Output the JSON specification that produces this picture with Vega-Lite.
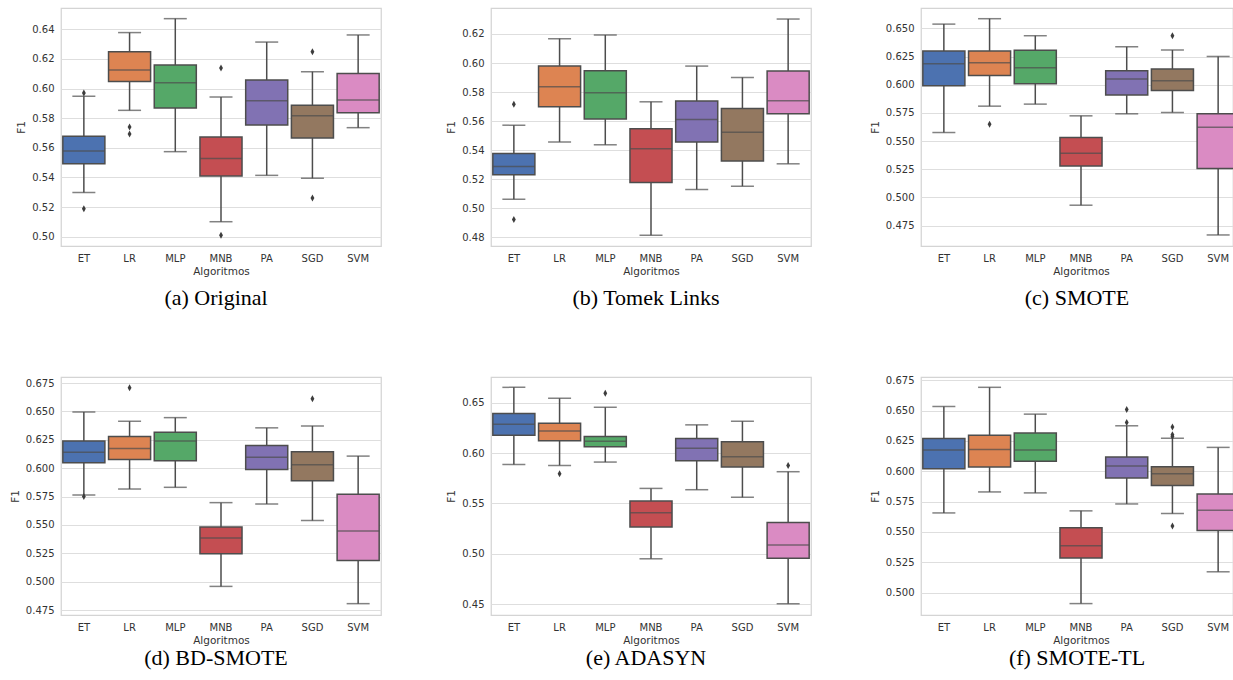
{
  "$schema": "https://vega.github.io/schema/vega-lite/v6.json",
  "background": "white",
  "padding": {"left": 9, "top": 7, "right": 0, "bottom": 0},
  "config": {
    "view": {"stroke": "#d4d4d4", "strokeWidth": 1.25},
    "axis": {"labelFont": "DejaVu Sans", "labelFontSize": 10, "labelColor": "#333333", "titleFont": "DejaVu Sans", "titleFontSize": 10.5, "titleFontWeight": "normal", "titleColor": "#333333", "ticks": false, "domain": false},
    "axisY": {"grid": true, "gridColor": "#dedede", "gridWidth": 1, "labelPadding": 7, "titlePadding": 5},
    "axisX": {"grid": false, "labelPadding": 7, "titlePadding": 3, "labelAngle": 0},
    "title": {"font": "'Liberation Serif', 'Times New Roman', serif", "fontSize": 22, "fontWeight": "normal", "color": "#000000", "anchor": "middle"}
  },
  "datasets": {
    "all": [
      {"p": "a", "alg": "ET", "lo": 0.5299, "q1": 0.5493, "med": 0.5579, "q3": 0.5678, "hi": 0.5948},
      {"p": "a", "alg": "LR", "lo": 0.5853, "q1": 0.6047, "med": 0.6125, "q3": 0.6249, "hi": 0.6378},
      {"p": "a", "alg": "MLP", "lo": 0.5574, "q1": 0.5869, "med": 0.6040, "q3": 0.6159, "hi": 0.6472},
      {"p": "a", "alg": "MNB", "lo": 0.5101, "q1": 0.5410, "med": 0.5527, "q3": 0.5673, "hi": 0.5943},
      {"p": "a", "alg": "PA", "lo": 0.5414, "q1": 0.5754, "med": 0.5918, "q3": 0.6058, "hi": 0.6314},
      {"p": "a", "alg": "SGD", "lo": 0.5394, "q1": 0.5666, "med": 0.5817, "q3": 0.5887, "hi": 0.6114},
      {"p": "a", "alg": "SVM", "lo": 0.5736, "q1": 0.5837, "med": 0.5923, "q3": 0.6101, "hi": 0.6362},
      {"p": "a", "alg": "ET", "v": 0.5970},
      {"p": "a", "alg": "ET", "v": 0.5189},
      {"p": "a", "alg": "LR", "v": 0.5741},
      {"p": "a", "alg": "LR", "v": 0.5693},
      {"p": "a", "alg": "MNB", "v": 0.6139},
      {"p": "a", "alg": "MNB", "v": 0.5009},
      {"p": "a", "alg": "SGD", "v": 0.6249},
      {"p": "a", "alg": "SGD", "v": 0.5261},

      {"p": "b", "alg": "ET", "lo": 0.5062, "q1": 0.5230, "med": 0.5287, "q3": 0.5377, "hi": 0.5572},
      {"p": "b", "alg": "LR", "lo": 0.5457, "q1": 0.5699, "med": 0.5837, "q3": 0.5979, "hi": 0.6168},
      {"p": "b", "alg": "MLP", "lo": 0.5437, "q1": 0.5614, "med": 0.5795, "q3": 0.5947, "hi": 0.6193},
      {"p": "b", "alg": "MNB", "lo": 0.4814, "q1": 0.5177, "med": 0.5409, "q3": 0.5547, "hi": 0.5733},
      {"p": "b", "alg": "PA", "lo": 0.5129, "q1": 0.5457, "med": 0.5611, "q3": 0.5738, "hi": 0.5979},
      {"p": "b", "alg": "SGD", "lo": 0.5152, "q1": 0.5326, "med": 0.5524, "q3": 0.5687, "hi": 0.5901},
      {"p": "b", "alg": "SVM", "lo": 0.5306, "q1": 0.5651, "med": 0.5740, "q3": 0.5945, "hi": 0.6303},
      {"p": "b", "alg": "ET", "v": 0.5717},
      {"p": "b", "alg": "ET", "v": 0.4922},

      {"p": "c", "alg": "ET", "lo": 0.5576, "q1": 0.5991, "med": 0.6186, "q3": 0.6299, "hi": 0.6538},
      {"p": "c", "alg": "LR", "lo": 0.5810, "q1": 0.6083, "med": 0.6195, "q3": 0.6299, "hi": 0.6586},
      {"p": "c", "alg": "MLP", "lo": 0.5828, "q1": 0.6008, "med": 0.6151, "q3": 0.6305, "hi": 0.6435},
      {"p": "c", "alg": "MNB", "lo": 0.4931, "q1": 0.5280, "med": 0.5393, "q3": 0.5532, "hi": 0.5724},
      {"p": "c", "alg": "PA", "lo": 0.5742, "q1": 0.5908, "med": 0.6050, "q3": 0.6124, "hi": 0.6337},
      {"p": "c", "alg": "SGD", "lo": 0.5754, "q1": 0.5950, "med": 0.6035, "q3": 0.6139, "hi": 0.6308},
      {"p": "c", "alg": "SVM", "lo": 0.4667, "q1": 0.5256, "med": 0.5623, "q3": 0.5742, "hi": 0.6251},
      {"p": "c", "alg": "LR", "v": 0.5650},
      {"p": "c", "alg": "SGD", "v": 0.6435},

      {"p": "d", "alg": "ET", "lo": 0.5763, "q1": 0.6047, "med": 0.6141, "q3": 0.6240, "hi": 0.6495},
      {"p": "d", "alg": "LR", "lo": 0.5816, "q1": 0.6077, "med": 0.6173, "q3": 0.6279, "hi": 0.6413},
      {"p": "d", "alg": "MLP", "lo": 0.5831, "q1": 0.6065, "med": 0.6238, "q3": 0.6317, "hi": 0.6445},
      {"p": "d", "alg": "MNB", "lo": 0.4958, "q1": 0.5245, "med": 0.5385, "q3": 0.5482, "hi": 0.5696},
      {"p": "d", "alg": "PA", "lo": 0.5684, "q1": 0.5989, "med": 0.6097, "q3": 0.6199, "hi": 0.6355},
      {"p": "d", "alg": "SGD", "lo": 0.5538, "q1": 0.5889, "med": 0.6030, "q3": 0.6144, "hi": 0.6372},
      {"p": "d", "alg": "SVM", "lo": 0.4806, "q1": 0.5187, "med": 0.5447, "q3": 0.5769, "hi": 0.6106},
      {"p": "d", "alg": "ET", "v": 0.5751},
      {"p": "d", "alg": "LR", "v": 0.6709},
      {"p": "d", "alg": "SGD", "v": 0.6612},

      {"p": "e", "alg": "ET", "lo": 0.5888, "q1": 0.6179, "med": 0.6288, "q3": 0.6394, "hi": 0.6655},
      {"p": "e", "alg": "LR", "lo": 0.5879, "q1": 0.6123, "med": 0.6222, "q3": 0.6298, "hi": 0.6546},
      {"p": "e", "alg": "MLP", "lo": 0.5912, "q1": 0.6064, "med": 0.6120, "q3": 0.6166, "hi": 0.6457},
      {"p": "e", "alg": "MNB", "lo": 0.4950, "q1": 0.5267, "med": 0.5409, "q3": 0.5525, "hi": 0.5650},
      {"p": "e", "alg": "PA", "lo": 0.5637, "q1": 0.5925, "med": 0.6050, "q3": 0.6146, "hi": 0.6282},
      {"p": "e", "alg": "SGD", "lo": 0.5561, "q1": 0.5862, "med": 0.5964, "q3": 0.6114, "hi": 0.6318},
      {"p": "e", "alg": "SVM", "lo": 0.4503, "q1": 0.4956, "med": 0.5088, "q3": 0.5310, "hi": 0.5816},
      {"p": "e", "alg": "LR", "v": 0.5796},
      {"p": "e", "alg": "MLP", "v": 0.6596},
      {"p": "e", "alg": "SVM", "v": 0.5879},

      {"p": "f", "alg": "ET", "lo": 0.5657, "q1": 0.6021, "med": 0.6175, "q3": 0.6271, "hi": 0.6534},
      {"p": "f", "alg": "LR", "lo": 0.5830, "q1": 0.6035, "med": 0.6180, "q3": 0.6298, "hi": 0.6692},
      {"p": "f", "alg": "MLP", "lo": 0.5822, "q1": 0.6082, "med": 0.6175, "q3": 0.6315, "hi": 0.6471},
      {"p": "f", "alg": "MNB", "lo": 0.4910, "q1": 0.5285, "med": 0.5386, "q3": 0.5534, "hi": 0.5674},
      {"p": "f", "alg": "PA", "lo": 0.5731, "q1": 0.5945, "med": 0.6043, "q3": 0.6117, "hi": 0.6375},
      {"p": "f", "alg": "SGD", "lo": 0.5652, "q1": 0.5882, "med": 0.5980, "q3": 0.6038, "hi": 0.6273},
      {"p": "f", "alg": "SVM", "lo": 0.5172, "q1": 0.5512, "med": 0.5679, "q3": 0.5813, "hi": 0.6197},
      {"p": "f", "alg": "PA", "v": 0.6509},
      {"p": "f", "alg": "PA", "v": 0.6402},
      {"p": "f", "alg": "SGD", "v": 0.6366},
      {"p": "f", "alg": "SGD", "v": 0.6301},
      {"p": "f", "alg": "SGD", "v": 0.6287},
      {"p": "f", "alg": "SGD", "v": 0.5550}
    ]
  },
  "columns": 3,
  "spacing": {"row": 131, "column": 110},
  "bounds": "flush",
  "concat": [
    {
      "width": 320, "height": 238,
      "title": {"text": "(a) Original", "orient": "bottom", "offset": 11, "dx": -5, "frame": "group"},
      "data": {"name": "all"},
      "transform": [{"filter": "datum.p == 'a'"}],
      "encoding": {"x": {"field": "alg", "type": "nominal", "title": "Algoritmos", "scale": {"domain": ["ET", "LR", "MLP", "MNB", "PA", "SGD", "SVM"], "paddingInner": 0, "paddingOuter": 0}}},
      "layer": [
        {"transform": [{"filter": "datum.lo != null"}], "mark": {"type": "rule", "stroke": "#4d4d4d", "strokeWidth": 1.5}, "encoding": {"y": {"field": "lo", "type": "quantitative", "title": "F1", "scale": {"domain": [0.4937, 0.6544], "nice": false, "zero": false}, "axis": {"values": [0.50, 0.52, 0.54, 0.56, 0.58, 0.60, 0.62, 0.64], "format": ".2f"}}, "y2": {"field": "hi"}}},
        {"transform": [{"filter": "datum.lo != null"}], "mark": {"type": "bar", "width": {"band": 0.92}, "stroke": "#4d4d4d", "strokeWidth": 1.5}, "encoding": {"y": {"field": "q1", "type": "quantitative", "title": "F1", "scale": {"domain": [0.4937, 0.6544], "nice": false, "zero": false}, "axis": {"values": [0.50, 0.52, 0.54, 0.56, 0.58, 0.60, 0.62, 0.64], "format": ".2f"}}, "y2": {"field": "q3"}, "color": {"field": "alg", "type": "nominal", "scale": {"domain": ["ET", "LR", "MLP", "MNB", "PA", "SGD", "SVM"], "range": ["#4C72B0", "#DD8452", "#55A868", "#C44E52", "#8172B3", "#937860", "#DA8BC3"]}, "legend": null}}},
        {"transform": [{"filter": "datum.lo != null"}], "mark": {"type": "tick", "color": "#4d4d4d", "thickness": 1.5, "size": 42}, "encoding": {"y": {"field": "med", "type": "quantitative", "title": "F1", "scale": {"domain": [0.4937, 0.6544], "nice": false, "zero": false}, "axis": {"values": [0.50, 0.52, 0.54, 0.56, 0.58, 0.60, 0.62, 0.64], "format": ".2f"}}}},
        {"transform": [{"filter": "datum.lo != null"}], "mark": {"type": "tick", "color": "#4d4d4d", "thickness": 1.5, "size": 23}, "encoding": {"y": {"field": "lo", "type": "quantitative", "title": "F1", "scale": {"domain": [0.4937, 0.6544], "nice": false, "zero": false}, "axis": {"values": [0.50, 0.52, 0.54, 0.56, 0.58, 0.60, 0.62, 0.64], "format": ".2f"}}}},
        {"transform": [{"filter": "datum.lo != null"}], "mark": {"type": "tick", "color": "#4d4d4d", "thickness": 1.5, "size": 23}, "encoding": {"y": {"field": "hi", "type": "quantitative", "title": "F1", "scale": {"domain": [0.4937, 0.6544], "nice": false, "zero": false}, "axis": {"values": [0.50, 0.52, 0.54, 0.56, 0.58, 0.60, 0.62, 0.64], "format": ".2f"}}}},
        {"transform": [{"filter": "datum.v != null"}], "mark": {"type": "point", "shape": "M0,-1L0.55,0L0,1L-0.55,0Z", "filled": true, "color": "#3d3d3d", "size": 49, "opacity": 1}, "encoding": {"y": {"field": "v", "type": "quantitative", "title": "F1", "scale": {"domain": [0.4937, 0.6544], "nice": false, "zero": false}, "axis": {"values": [0.50, 0.52, 0.54, 0.56, 0.58, 0.60, 0.62, 0.64], "format": ".2f"}}}}
      ]
    },
    {
      "width": 320, "height": 238,
      "title": {"text": "(b) Tomek Links", "orient": "bottom", "offset": 11, "dx": -5, "frame": "group"},
      "data": {"name": "all"},
      "transform": [{"filter": "datum.p == 'b'"}],
      "encoding": {"x": {"field": "alg", "type": "nominal", "title": "Algoritmos", "scale": {"domain": ["ET", "LR", "MLP", "MNB", "PA", "SGD", "SVM"], "paddingInner": 0, "paddingOuter": 0}}},
      "layer": [
        {"transform": [{"filter": "datum.lo != null"}], "mark": {"type": "rule", "stroke": "#4d4d4d", "strokeWidth": 1.5}, "encoding": {"y": {"field": "lo", "type": "quantitative", "title": "F1", "scale": {"domain": [0.474, 0.6379], "nice": false, "zero": false}, "axis": {"values": [0.48, 0.50, 0.52, 0.54, 0.56, 0.58, 0.60, 0.62], "format": ".2f"}}, "y2": {"field": "hi"}}},
        {"transform": [{"filter": "datum.lo != null"}], "mark": {"type": "bar", "width": {"band": 0.92}, "stroke": "#4d4d4d", "strokeWidth": 1.5}, "encoding": {"y": {"field": "q1", "type": "quantitative", "title": "F1", "scale": {"domain": [0.474, 0.6379], "nice": false, "zero": false}, "axis": {"values": [0.48, 0.50, 0.52, 0.54, 0.56, 0.58, 0.60, 0.62], "format": ".2f"}}, "y2": {"field": "q3"}, "color": {"field": "alg", "type": "nominal", "scale": {"domain": ["ET", "LR", "MLP", "MNB", "PA", "SGD", "SVM"], "range": ["#4C72B0", "#DD8452", "#55A868", "#C44E52", "#8172B3", "#937860", "#DA8BC3"]}, "legend": null}}},
        {"transform": [{"filter": "datum.lo != null"}], "mark": {"type": "tick", "color": "#4d4d4d", "thickness": 1.5, "size": 42}, "encoding": {"y": {"field": "med", "type": "quantitative", "title": "F1", "scale": {"domain": [0.474, 0.6379], "nice": false, "zero": false}, "axis": {"values": [0.48, 0.50, 0.52, 0.54, 0.56, 0.58, 0.60, 0.62], "format": ".2f"}}}},
        {"transform": [{"filter": "datum.lo != null"}], "mark": {"type": "tick", "color": "#4d4d4d", "thickness": 1.5, "size": 23}, "encoding": {"y": {"field": "lo", "type": "quantitative", "title": "F1", "scale": {"domain": [0.474, 0.6379], "nice": false, "zero": false}, "axis": {"values": [0.48, 0.50, 0.52, 0.54, 0.56, 0.58, 0.60, 0.62], "format": ".2f"}}}},
        {"transform": [{"filter": "datum.lo != null"}], "mark": {"type": "tick", "color": "#4d4d4d", "thickness": 1.5, "size": 23}, "encoding": {"y": {"field": "hi", "type": "quantitative", "title": "F1", "scale": {"domain": [0.474, 0.6379], "nice": false, "zero": false}, "axis": {"values": [0.48, 0.50, 0.52, 0.54, 0.56, 0.58, 0.60, 0.62], "format": ".2f"}}}},
        {"transform": [{"filter": "datum.v != null"}], "mark": {"type": "point", "shape": "M0,-1L0.55,0L0,1L-0.55,0Z", "filled": true, "color": "#3d3d3d", "size": 49, "opacity": 1}, "encoding": {"y": {"field": "v", "type": "quantitative", "title": "F1", "scale": {"domain": [0.474, 0.6379], "nice": false, "zero": false}, "axis": {"values": [0.48, 0.50, 0.52, 0.54, 0.56, 0.58, 0.60, 0.62], "format": ".2f"}}}}
      ]
    },
    {
      "width": 312, "height": 238,
      "title": {"text": "(c) SMOTE", "orient": "bottom", "offset": 11, "dx": 0, "frame": "group"},
      "data": {"name": "all"},
      "transform": [{"filter": "datum.p == 'c'"}],
      "encoding": {"x": {"field": "alg", "type": "nominal", "title": "Algoritmos", "scale": {"domain": ["ET", "LR", "MLP", "MNB", "PA", "SGD", "SVM"], "paddingInner": 0, "paddingOuter": 0, "range": [0, 320]}}},
      "layer": [
        {"transform": [{"filter": "datum.lo != null"}], "mark": {"type": "rule", "stroke": "#4d4d4d", "strokeWidth": 1.5, "clip": true}, "encoding": {"y": {"field": "lo", "type": "quantitative", "title": "F1", "scale": {"domain": [0.4569, 0.6681], "nice": false, "zero": false}, "axis": {"values": [0.475, 0.5, 0.525, 0.55, 0.575, 0.6, 0.625, 0.65], "format": ".3f"}}, "y2": {"field": "hi"}}},
        {"transform": [{"filter": "datum.lo != null"}], "mark": {"type": "bar", "width": {"band": 0.92}, "stroke": "#4d4d4d", "strokeWidth": 1.5, "clip": true}, "encoding": {"y": {"field": "q1", "type": "quantitative", "title": "F1", "scale": {"domain": [0.4569, 0.6681], "nice": false, "zero": false}, "axis": {"values": [0.475, 0.5, 0.525, 0.55, 0.575, 0.6, 0.625, 0.65], "format": ".3f"}}, "y2": {"field": "q3"}, "color": {"field": "alg", "type": "nominal", "scale": {"domain": ["ET", "LR", "MLP", "MNB", "PA", "SGD", "SVM"], "range": ["#4C72B0", "#DD8452", "#55A868", "#C44E52", "#8172B3", "#937860", "#DA8BC3"]}, "legend": null}}},
        {"transform": [{"filter": "datum.lo != null"}], "mark": {"type": "tick", "color": "#4d4d4d", "thickness": 1.5, "size": 42, "clip": true}, "encoding": {"y": {"field": "med", "type": "quantitative", "title": "F1", "scale": {"domain": [0.4569, 0.6681], "nice": false, "zero": false}, "axis": {"values": [0.475, 0.5, 0.525, 0.55, 0.575, 0.6, 0.625, 0.65], "format": ".3f"}}}},
        {"transform": [{"filter": "datum.lo != null"}], "mark": {"type": "tick", "color": "#4d4d4d", "thickness": 1.5, "size": 23, "clip": true}, "encoding": {"y": {"field": "lo", "type": "quantitative", "title": "F1", "scale": {"domain": [0.4569, 0.6681], "nice": false, "zero": false}, "axis": {"values": [0.475, 0.5, 0.525, 0.55, 0.575, 0.6, 0.625, 0.65], "format": ".3f"}}}},
        {"transform": [{"filter": "datum.lo != null"}], "mark": {"type": "tick", "color": "#4d4d4d", "thickness": 1.5, "size": 23, "clip": true}, "encoding": {"y": {"field": "hi", "type": "quantitative", "title": "F1", "scale": {"domain": [0.4569, 0.6681], "nice": false, "zero": false}, "axis": {"values": [0.475, 0.5, 0.525, 0.55, 0.575, 0.6, 0.625, 0.65], "format": ".3f"}}}},
        {"transform": [{"filter": "datum.v != null"}], "mark": {"type": "point", "shape": "M0,-1L0.55,0L0,1L-0.55,0Z", "filled": true, "color": "#3d3d3d", "size": 49, "opacity": 1, "clip": true}, "encoding": {"y": {"field": "v", "type": "quantitative", "title": "F1", "scale": {"domain": [0.4569, 0.6681], "nice": false, "zero": false}, "axis": {"values": [0.475, 0.5, 0.525, 0.55, 0.575, 0.6, 0.625, 0.65], "format": ".3f"}}}}
      ]
    },
    {
      "width": 320, "height": 238,
      "title": {"text": "(d) BD-SMOTE", "orient": "bottom", "offset": 2, "dx": -5, "frame": "group"},
      "data": {"name": "all"},
      "transform": [{"filter": "datum.p == 'd'"}],
      "encoding": {"x": {"field": "alg", "type": "nominal", "title": "Algoritmos", "scale": {"domain": ["ET", "LR", "MLP", "MNB", "PA", "SGD", "SVM"], "paddingInner": 0, "paddingOuter": 0}}},
      "layer": [
        {"transform": [{"filter": "datum.lo != null"}], "mark": {"type": "rule", "stroke": "#4d4d4d", "strokeWidth": 1.5}, "encoding": {"y": {"field": "lo", "type": "quantitative", "title": "F1", "scale": {"domain": [0.4706, 0.6803], "nice": false, "zero": false}, "axis": {"values": [0.475, 0.5, 0.525, 0.55, 0.575, 0.6, 0.625, 0.65, 0.675], "format": ".3f"}}, "y2": {"field": "hi"}}},
        {"transform": [{"filter": "datum.lo != null"}], "mark": {"type": "bar", "width": {"band": 0.92}, "stroke": "#4d4d4d", "strokeWidth": 1.5}, "encoding": {"y": {"field": "q1", "type": "quantitative", "title": "F1", "scale": {"domain": [0.4706, 0.6803], "nice": false, "zero": false}, "axis": {"values": [0.475, 0.5, 0.525, 0.55, 0.575, 0.6, 0.625, 0.65, 0.675], "format": ".3f"}}, "y2": {"field": "q3"}, "color": {"field": "alg", "type": "nominal", "scale": {"domain": ["ET", "LR", "MLP", "MNB", "PA", "SGD", "SVM"], "range": ["#4C72B0", "#DD8452", "#55A868", "#C44E52", "#8172B3", "#937860", "#DA8BC3"]}, "legend": null}}},
        {"transform": [{"filter": "datum.lo != null"}], "mark": {"type": "tick", "color": "#4d4d4d", "thickness": 1.5, "size": 42}, "encoding": {"y": {"field": "med", "type": "quantitative", "title": "F1", "scale": {"domain": [0.4706, 0.6803], "nice": false, "zero": false}, "axis": {"values": [0.475, 0.5, 0.525, 0.55, 0.575, 0.6, 0.625, 0.65, 0.675], "format": ".3f"}}}},
        {"transform": [{"filter": "datum.lo != null"}], "mark": {"type": "tick", "color": "#4d4d4d", "thickness": 1.5, "size": 23}, "encoding": {"y": {"field": "lo", "type": "quantitative", "title": "F1", "scale": {"domain": [0.4706, 0.6803], "nice": false, "zero": false}, "axis": {"values": [0.475, 0.5, 0.525, 0.55, 0.575, 0.6, 0.625, 0.65, 0.675], "format": ".3f"}}}},
        {"transform": [{"filter": "datum.lo != null"}], "mark": {"type": "tick", "color": "#4d4d4d", "thickness": 1.5, "size": 23}, "encoding": {"y": {"field": "hi", "type": "quantitative", "title": "F1", "scale": {"domain": [0.4706, 0.6803], "nice": false, "zero": false}, "axis": {"values": [0.475, 0.5, 0.525, 0.55, 0.575, 0.6, 0.625, 0.65, 0.675], "format": ".3f"}}}},
        {"transform": [{"filter": "datum.v != null"}], "mark": {"type": "point", "shape": "M0,-1L0.55,0L0,1L-0.55,0Z", "filled": true, "color": "#3d3d3d", "size": 49, "opacity": 1}, "encoding": {"y": {"field": "v", "type": "quantitative", "title": "F1", "scale": {"domain": [0.4706, 0.6803], "nice": false, "zero": false}, "axis": {"values": [0.475, 0.5, 0.525, 0.55, 0.575, 0.6, 0.625, 0.65, 0.675], "format": ".3f"}}}}
      ]
    },
    {
      "width": 320, "height": 238,
      "title": {"text": "(e) ADASYN", "orient": "bottom", "offset": 2, "dx": -5, "frame": "group"},
      "data": {"name": "all"},
      "transform": [{"filter": "datum.p == 'e'"}],
      "encoding": {"x": {"field": "alg", "type": "nominal", "title": "Algoritmos", "scale": {"domain": ["ET", "LR", "MLP", "MNB", "PA", "SGD", "SVM"], "paddingInner": 0, "paddingOuter": 0}}},
      "layer": [
        {"transform": [{"filter": "datum.lo != null"}], "mark": {"type": "rule", "stroke": "#4d4d4d", "strokeWidth": 1.5}, "encoding": {"y": {"field": "lo", "type": "quantitative", "title": "F1", "scale": {"domain": [0.4391, 0.6758], "nice": false, "zero": false}, "axis": {"values": [0.45, 0.5, 0.55, 0.6, 0.65], "format": ".2f"}}, "y2": {"field": "hi"}}},
        {"transform": [{"filter": "datum.lo != null"}], "mark": {"type": "bar", "width": {"band": 0.92}, "stroke": "#4d4d4d", "strokeWidth": 1.5}, "encoding": {"y": {"field": "q1", "type": "quantitative", "title": "F1", "scale": {"domain": [0.4391, 0.6758], "nice": false, "zero": false}, "axis": {"values": [0.45, 0.5, 0.55, 0.6, 0.65], "format": ".2f"}}, "y2": {"field": "q3"}, "color": {"field": "alg", "type": "nominal", "scale": {"domain": ["ET", "LR", "MLP", "MNB", "PA", "SGD", "SVM"], "range": ["#4C72B0", "#DD8452", "#55A868", "#C44E52", "#8172B3", "#937860", "#DA8BC3"]}, "legend": null}}},
        {"transform": [{"filter": "datum.lo != null"}], "mark": {"type": "tick", "color": "#4d4d4d", "thickness": 1.5, "size": 42}, "encoding": {"y": {"field": "med", "type": "quantitative", "title": "F1", "scale": {"domain": [0.4391, 0.6758], "nice": false, "zero": false}, "axis": {"values": [0.45, 0.5, 0.55, 0.6, 0.65], "format": ".2f"}}}},
        {"transform": [{"filter": "datum.lo != null"}], "mark": {"type": "tick", "color": "#4d4d4d", "thickness": 1.5, "size": 23}, "encoding": {"y": {"field": "lo", "type": "quantitative", "title": "F1", "scale": {"domain": [0.4391, 0.6758], "nice": false, "zero": false}, "axis": {"values": [0.45, 0.5, 0.55, 0.6, 0.65], "format": ".2f"}}}},
        {"transform": [{"filter": "datum.lo != null"}], "mark": {"type": "tick", "color": "#4d4d4d", "thickness": 1.5, "size": 23}, "encoding": {"y": {"field": "hi", "type": "quantitative", "title": "F1", "scale": {"domain": [0.4391, 0.6758], "nice": false, "zero": false}, "axis": {"values": [0.45, 0.5, 0.55, 0.6, 0.65], "format": ".2f"}}}},
        {"transform": [{"filter": "datum.v != null"}], "mark": {"type": "point", "shape": "M0,-1L0.55,0L0,1L-0.55,0Z", "filled": true, "color": "#3d3d3d", "size": 49, "opacity": 1}, "encoding": {"y": {"field": "v", "type": "quantitative", "title": "F1", "scale": {"domain": [0.4391, 0.6758], "nice": false, "zero": false}, "axis": {"values": [0.45, 0.5, 0.55, 0.6, 0.65], "format": ".2f"}}}}
      ]
    },
    {
      "width": 312, "height": 238,
      "title": {"text": "(f) SMOTE-TL", "orient": "bottom", "offset": 2, "dx": 0, "frame": "group"},
      "data": {"name": "all"},
      "transform": [{"filter": "datum.p == 'f'"}],
      "encoding": {"x": {"field": "alg", "type": "nominal", "title": "Algoritmos", "scale": {"domain": ["ET", "LR", "MLP", "MNB", "PA", "SGD", "SVM"], "paddingInner": 0, "paddingOuter": 0, "range": [0, 320]}}},
      "layer": [
        {"transform": [{"filter": "datum.lo != null"}], "mark": {"type": "rule", "stroke": "#4d4d4d", "strokeWidth": 1.5, "clip": true}, "encoding": {"y": {"field": "lo", "type": "quantitative", "title": "F1", "scale": {"domain": [0.4816, 0.6777], "nice": false, "zero": false}, "axis": {"values": [0.5, 0.525, 0.55, 0.575, 0.6, 0.625, 0.65, 0.675], "format": ".3f"}}, "y2": {"field": "hi"}}},
        {"transform": [{"filter": "datum.lo != null"}], "mark": {"type": "bar", "width": {"band": 0.92}, "stroke": "#4d4d4d", "strokeWidth": 1.5, "clip": true}, "encoding": {"y": {"field": "q1", "type": "quantitative", "title": "F1", "scale": {"domain": [0.4816, 0.6777], "nice": false, "zero": false}, "axis": {"values": [0.5, 0.525, 0.55, 0.575, 0.6, 0.625, 0.65, 0.675], "format": ".3f"}}, "y2": {"field": "q3"}, "color": {"field": "alg", "type": "nominal", "scale": {"domain": ["ET", "LR", "MLP", "MNB", "PA", "SGD", "SVM"], "range": ["#4C72B0", "#DD8452", "#55A868", "#C44E52", "#8172B3", "#937860", "#DA8BC3"]}, "legend": null}}},
        {"transform": [{"filter": "datum.lo != null"}], "mark": {"type": "tick", "color": "#4d4d4d", "thickness": 1.5, "size": 42, "clip": true}, "encoding": {"y": {"field": "med", "type": "quantitative", "title": "F1", "scale": {"domain": [0.4816, 0.6777], "nice": false, "zero": false}, "axis": {"values": [0.5, 0.525, 0.55, 0.575, 0.6, 0.625, 0.65, 0.675], "format": ".3f"}}}},
        {"transform": [{"filter": "datum.lo != null"}], "mark": {"type": "tick", "color": "#4d4d4d", "thickness": 1.5, "size": 23, "clip": true}, "encoding": {"y": {"field": "lo", "type": "quantitative", "title": "F1", "scale": {"domain": [0.4816, 0.6777], "nice": false, "zero": false}, "axis": {"values": [0.5, 0.525, 0.55, 0.575, 0.6, 0.625, 0.65, 0.675], "format": ".3f"}}}},
        {"transform": [{"filter": "datum.lo != null"}], "mark": {"type": "tick", "color": "#4d4d4d", "thickness": 1.5, "size": 23, "clip": true}, "encoding": {"y": {"field": "hi", "type": "quantitative", "title": "F1", "scale": {"domain": [0.4816, 0.6777], "nice": false, "zero": false}, "axis": {"values": [0.5, 0.525, 0.55, 0.575, 0.6, 0.625, 0.65, 0.675], "format": ".3f"}}}},
        {"transform": [{"filter": "datum.v != null"}], "mark": {"type": "point", "shape": "M0,-1L0.55,0L0,1L-0.55,0Z", "filled": true, "color": "#3d3d3d", "size": 49, "opacity": 1, "clip": true}, "encoding": {"y": {"field": "v", "type": "quantitative", "title": "F1", "scale": {"domain": [0.4816, 0.6777], "nice": false, "zero": false}, "axis": {"values": [0.5, 0.525, 0.55, 0.575, 0.6, 0.625, 0.65, 0.675], "format": ".3f"}}}}
      ]
    }
  ]
}
